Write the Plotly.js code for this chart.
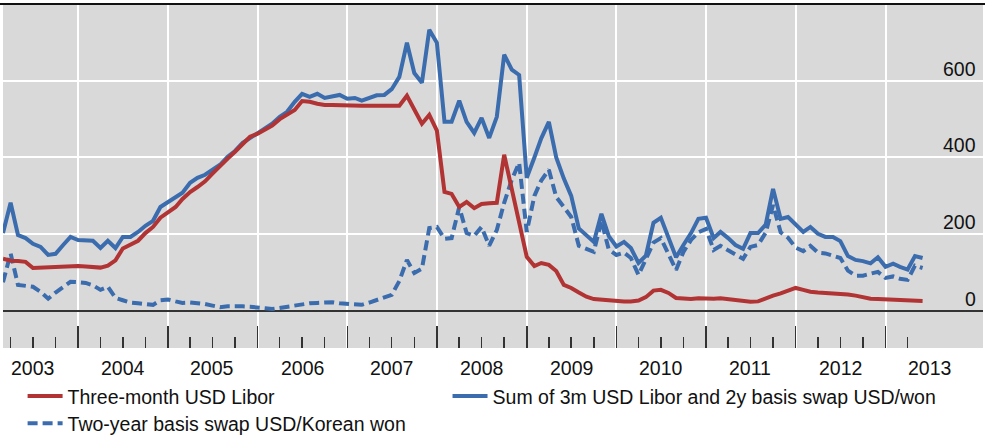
<!DOCTYPE html>
<html><head><meta charset="utf-8">
<script src="https://cdn.plot.ly/plotly-3.0.1.min.js"></script>
<style>html,body{margin:0;padding:0;background:#fff}#chart{width:985px;height:436px}</style>
</head><body><div id="chart"></div>
<script>
// Monthly observations, first month March 2003, basis points
const startYear = 2003, startMonth = 3, nMonths = 124;
const seriesNames = ["Three-month USD Libor", "Sum of 3m USD Libor and 2y basis swap USD/won", "Two-year basis swap USD/Korean won"];
const libor = [136,131,130,128,112,113,115,116,117,117,
117,116,115,113,118,132,163,172,183,203,219,243,
258,271,292,310,323,338,358,376,397,415,436,454,
462,472,483,500,513,524,547,545,540,537,537,536,
535,535,535,535,535,535,535,535,561,524,488,511,
470,310,305,271,284,268,279,281,282,407,318,230,
141,117,125,120,104,68,60,48,37,31,29,27,
26,25,25,27,36,53,55,47,34,32,31,33,
32,32,33,31,29,26,24,25,34,40,46,54,
60,55,50,48,47,47,45,43,40,36,32,31,
30,30,29,29,27,26];
const sumLiborSwap = [203,282,198,190,175,167,146,149,172,193,
185,185,183,164,183,164,193,193,206,222,235,271,
284,297,308,334,347,355,368,381,402,417,438,451,
464,475,488,506,519,545,566,558,566,555,558,563,
553,555,548,555,562,563,578,610,699,620,595,733,
699,493,493,548,493,464,503,451,506,668,629,615,
347,400,450,493,400,345,300,215,198,180,253,195,
168,180,164,125,144,230,243,193,140,172,203,240,
243,190,206,190,172,162,203,203,225,318,240,245,
224,206,219,201,193,193,182,143,133,130,124,140,
115,123,115,108,143,138];
const basisSwap = [75,150,68,66,63,50,32,48,62,76,
75,73,67,55,63,34,28,22,20,17,16,28,
30,25,21,22,21,18,14,10,12,13,12,11,
10,7,5,8,10,15,18,20,21,22,23,20,
18,16,16,22,29,35,42,78,133,99,110,216,
219,188,190,271,203,196,219,170,211,282,342,386,
206,300,340,368,297,271,245,170,162,154,235,160,
146,152,138,94,135,178,190,146,107,154,185,205,
214,159,170,158,146,136,167,172,204,276,205,191,
165,156,170,152,150,145,138,105,92,92,98,102,
86,90,84,81,118,112];
const yTickVals = [0, 200, 400, 600];
const yTickText = ["0", "200", "400", "600"];
const yearLabels = ["2003","2004","2005","2006","2007","2008","2009","2010","2011","2012","2013"];

const dates = [];
for (let i = 0; i < nMonths; i++) {
  const t = (startMonth - 1) + i;
  const y = startYear + Math.floor(t / 12), m = (t % 12) + 1;
  dates.push(y + "-" + String(m).padStart(2, "0") + "-01");
}
// year-boundary ticks and quarterly minor ticks
const majorTicks = yearLabels.slice(1).map(y => y + "-01-01");
const minorTicks = [];
yearLabels.forEach(y => ["04","07","10"].forEach(mm => minorTicks.push(y + "-" + mm + "-01")));
const minorShown = minorTicks.filter(d => d <= "2013-04-01");

const RED = "#b23333", BLUE = "#3b6cae";
const FONT = "Liberation Sans, Arial, sans-serif";

const traces = [
  {x: dates, y: basisSwap, name: seriesNames[2], type: "scatter", mode: "lines",
   line: {color: BLUE, width: 4, dash: "10px,5px"}, legend: "legend3"},
  {x: dates, y: sumLiborSwap, name: seriesNames[1], type: "scatter", mode: "lines",
   line: {color: BLUE, width: 4}, legend: "legend2"},
  {x: dates, y: libor, name: seriesNames[0], type: "scatter", mode: "lines",
   line: {color: RED, width: 4}, legend: "legend"}
];

const annotations = yTickVals.map((v, i) => ({
  xref: "paper", yref: "y", x: 1, y: v, text: yTickText[i], showarrow: false,
  xanchor: "right", yanchor: "middle", xshift: -5, yshift: 12,
  font: {family: FONT, size: 19.5, color: "#111"}
})).concat(yearLabels.map(y => ({
  xref: "x", yref: "paper", x: y + "-07-01", y: -0.058, text: y, showarrow: false,
  xanchor: "center", yanchor: "middle",
  font: {family: FONT, size: 19.5, color: "#111"}
})));

function legendBox(x, y) {
  return {orientation: "h", x: x, xanchor: "left", y: y, yanchor: "top",
    font: {family: FONT, size: 19.5, color: "#111"}, bgcolor: "rgba(0,0,0,0)",
    borderwidth: 0, itemwidth: 35};
}

const layout = {
  width: 985, height: 436,
  margin: {l: 3, r: 2, t: 4, b: 88, pad: 0, autoexpand: false},
  paper_bgcolor: "#ffffff", plot_bgcolor: "#d9d9d9",
  font: {family: FONT, size: 19.5, color: "#111"},
  showlegend: true,
  legend: legendBox(0.020, -0.084),
  legend2: legendBox(0.4536, -0.084),
  legend3: legendBox(0.020, -0.163),
  xaxis: {type: "date", range: ["2003-03-01", "2014-02-02"],
    tickmode: "array", tickvals: majorTicks, showticklabels: false,
    ticks: "inside", ticklen: 22, tickwidth: 1.5, tickcolor: "#333",
    minor: {tickmode: "array", tickvals: minorShown, ticks: "inside", ticklen: 11, tickwidth: 1.5, tickcolor: "#333", showgrid: false},
    showgrid: true, gridcolor: "#ffffff", gridwidth: 2,
    showline: false, zeroline: false, fixedrange: true},
  yaxis: {range: [-96.5, 800], tickvals: yTickVals, showticklabels: false, ticks: "",
    showgrid: true, gridcolor: "#ffffff", gridwidth: 2,
    zeroline: true, zerolinecolor: "#333", zerolinewidth: 1.5, showline: false, fixedrange: true},
  annotations: annotations,
  shapes: [{type: "line", xref: "paper", yref: "paper", x0: -0.004, x1: 1.003, y0: 1, y1: 1,
    line: {color: "#111", width: 2}}]
};

Plotly.newPlot("chart", traces, layout, {staticPlot: true, displayModeBar: false});
</script></body></html>
